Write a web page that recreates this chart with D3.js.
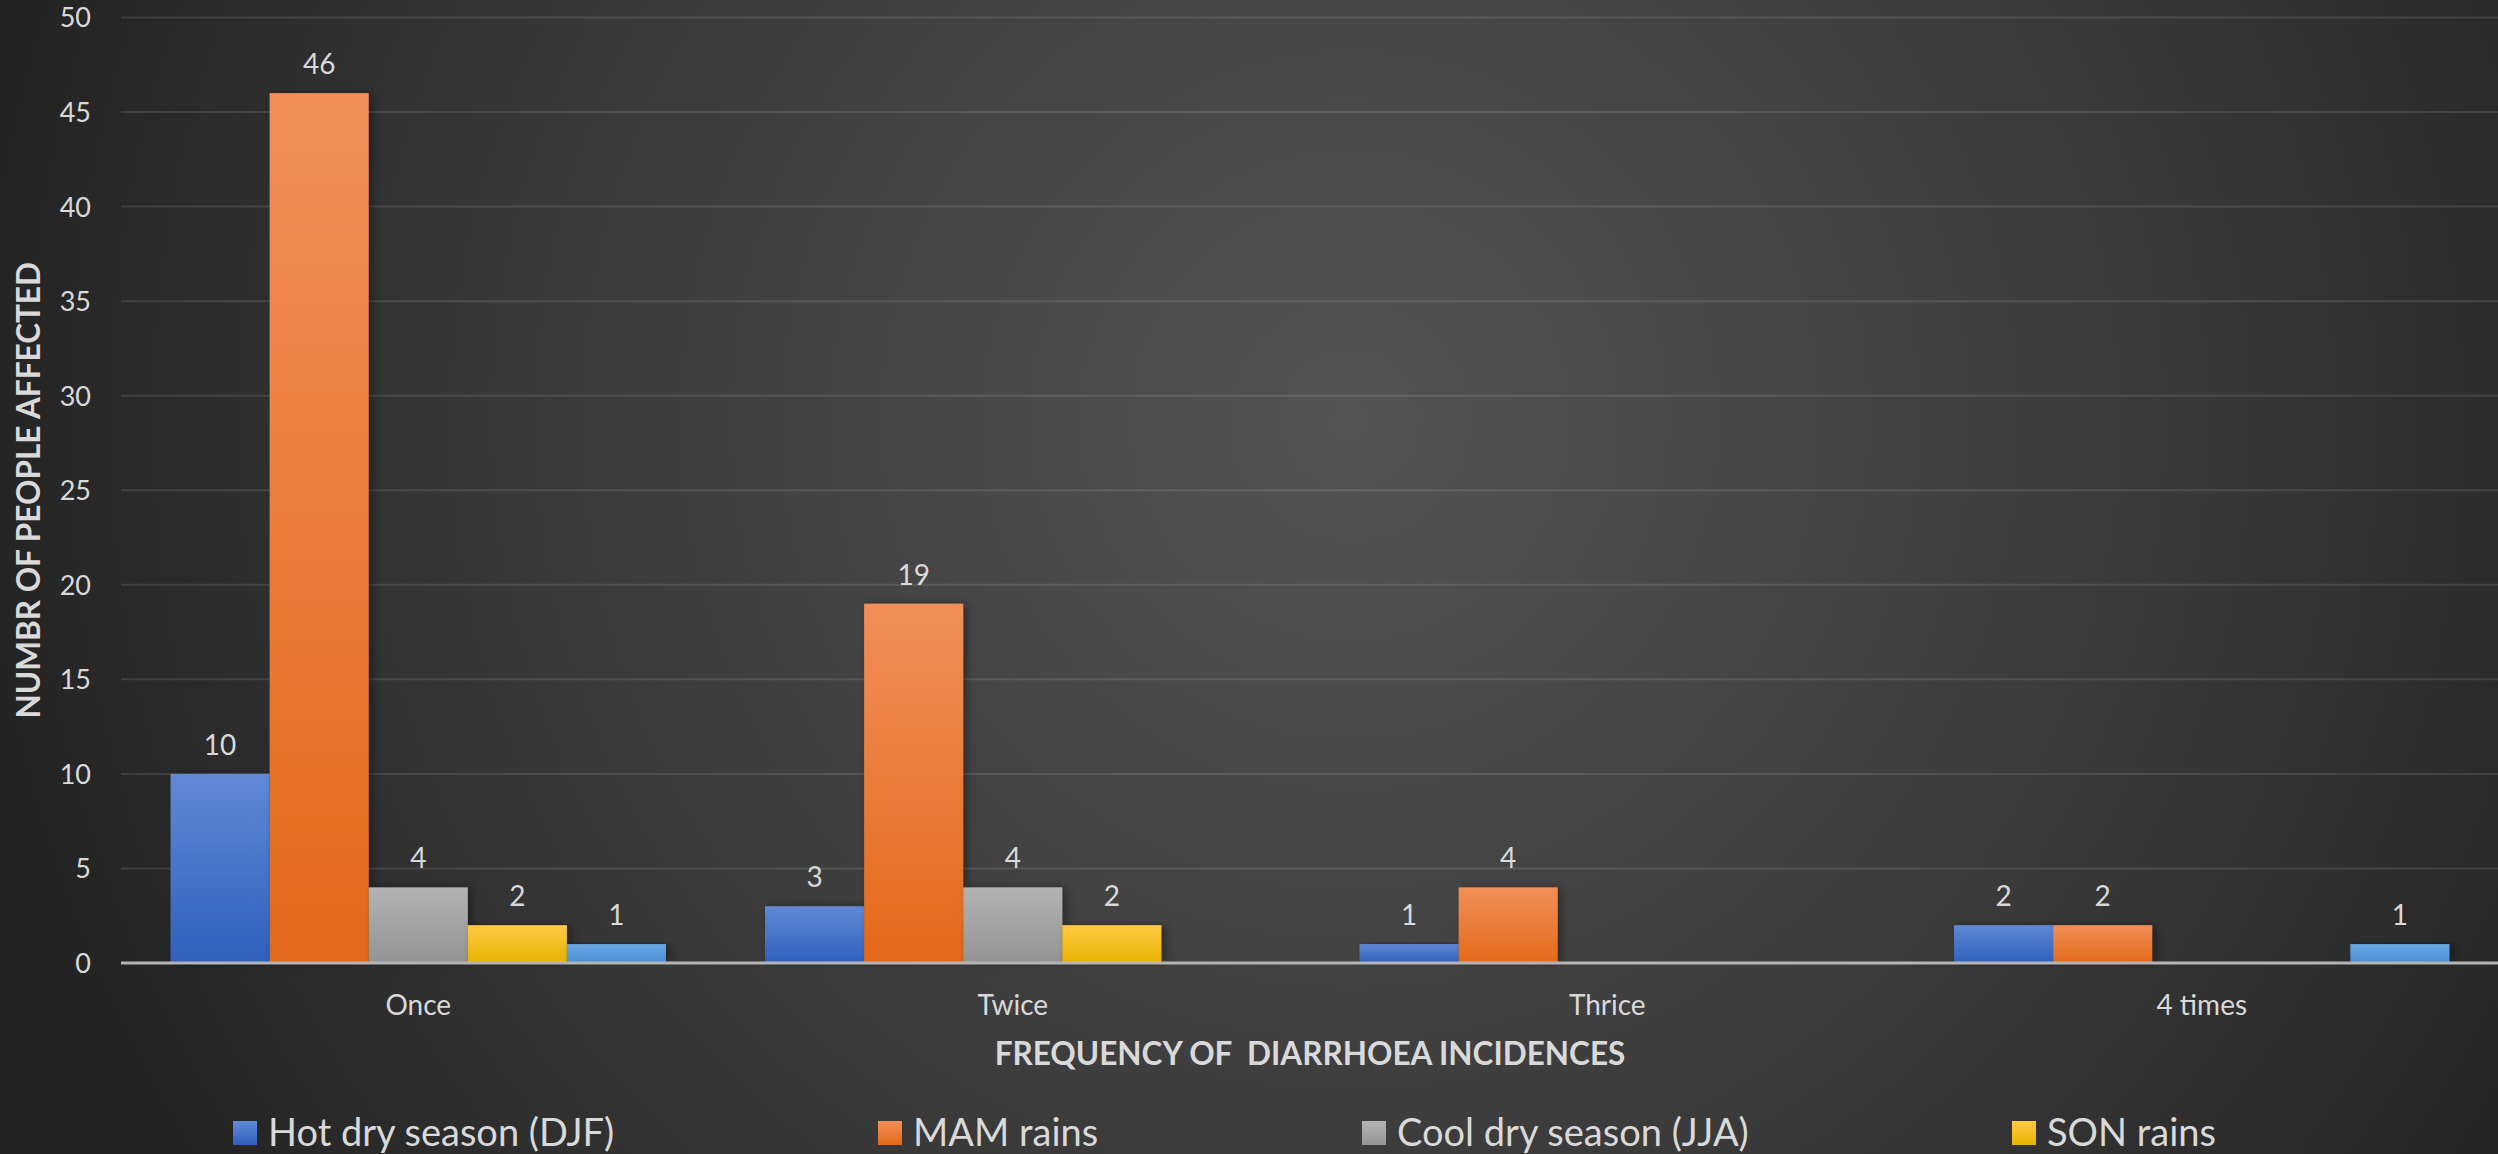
<!DOCTYPE html>
<html>
<head>
<meta charset="utf-8">
<script src="https://cdn.jsdelivr.net/npm/d3@7"></script>
<style>
  html, body { margin: 0; padding: 0; background: #2a2a2a; overflow: hidden; }
  svg { display: block; }
  text { font-family: Lato, "Open Sans", sans-serif; fill: #d9d9d9; }
</style>
</head>
<body>
<svg id="chart" width="2498" height="1154"></svg>
<script>
// Frequency of diarrhoea incidences by season
const categories = ["Once", "Twice", "Thrice", "4 times"];
const seriesNames = ["Hot dry season (DJF)", "MAM rains", "Cool dry season (JJA)", "SON rains", "Other"];
const hotDry  = [10, 3, 1, 2];
const mamRains = [46, 19, 4, 2];
const coolDry = [4, 4, null, null];
const sonRains = [2, 2, null, null];
const other   = [1, null, null, 1];
const yTicks = [0, 5, 10, 15, 20, 25, 30, 35, 40, 45, 50];
const xTitle = "FREQUENCY OF  DIARRHOEA INCIDENCES";
const yTitle = "NUMBR OF PEOPLE AFFECTED";

const seriesValues = [hotDry, mamRains, coolDry, sonRains, other];
const legendShown = 4;

// colour ramps (top, bottom) per series
const palette = [
  ["#6189d6", "#2f60bd"],
  ["#f28f59", "#e2691a"],
  ["#b3b3b3", "#949494"],
  ["#ffca45", "#e8b400"],
  ["#6aa8e2", "#4a8fd2"]
];

const W = 2498, H = 1154;
const plot = { left: 121, right: 2499, top: 17.5, bottom: 963 };

const svg = d3.select("#chart");
const defs = svg.append("defs");

// background
const bg = defs.append("radialGradient").attr("id", "bg")
  .attr("gradientUnits", "userSpaceOnUse")
  .attr("cx", 1350).attr("cy", 420).attr("r", 1450);
bg.append("stop").attr("offset", "0%").attr("stop-color", "#545454");
bg.append("stop").attr("offset", "55%").attr("stop-color", "#3a3a3a");
bg.append("stop").attr("offset", "100%").attr("stop-color", "#212121");
svg.append("rect").attr("width", W).attr("height", H).attr("fill", "url(#bg)");

palette.forEach((c, i) => {
  const g = defs.append("linearGradient").attr("id", "bar" + i)
    .attr("x1", 0).attr("y1", 0).attr("x2", 0).attr("y2", 1);
  g.append("stop").attr("offset", "0%").attr("stop-color", c[0]);
  g.append("stop").attr("offset", "100%").attr("stop-color", c[1]);
});

const shadow = defs.append("filter").attr("id", "shadow")
  .attr("x", "-10%").attr("y", "-10%").attr("width", "130%").attr("height", "120%");
shadow.append("feDropShadow").attr("dx", 4).attr("dy", 0).attr("stdDeviation", 4)
  .attr("flood-color", "#000").attr("flood-opacity", 0.35);

// scales
const x0 = d3.scaleBand().domain(categories).range([plot.left, plot.right])
  .paddingInner(1 / 6).paddingOuter(1 / 12);
const x1 = d3.scaleBand().domain(d3.range(seriesNames.length)).range([0, x0.bandwidth()]);
const y = d3.scaleLinear().domain([0, 50]).range([plot.bottom, plot.top]);

// gridlines
svg.append("g").selectAll("line").data(yTicks.filter(t => t > 0)).join("line")
  .attr("x1", plot.left).attr("x2", plot.right)
  .attr("y1", d => y(d)).attr("y2", d => y(d))
  .attr("stroke", "rgba(255,255,255,0.11)").attr("stroke-width", 2);

// y axis labels
const yAxis = d3.axisLeft(y).tickValues(yTicks).tickSize(0).tickPadding(0);
const ya = svg.append("g").attr("transform", `translate(91,0)`).call(yAxis);
ya.select(".domain").remove();
ya.selectAll("text").attr("font-size", 27).attr("fill", "#d9d9d9")
  .style("font-family", "Lato, sans-serif").attr("dy", "0.35em");

// bars
const flat = [];
categories.forEach((c, ci) => {
  seriesValues.forEach((vals, si) => {
    if (vals[ci] != null) flat.push({ cat: c, si, v: vals[ci] });
  });
});

const bars = svg.append("g");
bars.selectAll("rect").data(flat).join("rect")
  .attr("x", d => x0(d.cat) + x1(d.si))
  .attr("width", x1.bandwidth())
  .attr("y", d => y(d.v))
  .attr("height", d => y(0) - y(d.v))
  .attr("fill", d => `url(#bar${d.si})`)
  .attr("filter", "url(#shadow)");

// value labels
svg.append("g").selectAll("text").data(flat).join("text")
  .attr("x", d => x0(d.cat) + x1(d.si) + x1.bandwidth() / 2)
  .attr("y", d => y(d.v) - 19)
  .attr("text-anchor", "middle")
  .attr("font-size", 28)
  .text(d => d.v);

// category axis
const xAxis = d3.axisBottom(x0).tickSize(0).tickPadding(0);
const xa = svg.append("g").attr("transform", `translate(0,${plot.bottom})`).call(xAxis);
xa.select(".domain").remove();
xa.selectAll("text").attr("font-size", 28).attr("fill", "#d9d9d9")
  .style("font-family", "Lato, sans-serif").attr("y", 52).attr("dy", 0);

svg.append("line")
  .attr("x1", plot.left).attr("x2", plot.right)
  .attr("y1", y(0)).attr("y2", y(0))
  .attr("stroke", "#b5b5b5").attr("stroke-width", 3);

// axis titles
svg.append("text")
  .attr("x", (plot.left + plot.right) / 2).attr("y", 1065)
  .attr("text-anchor", "middle").attr("font-size", 31.5).attr("font-weight", 700)
  .style("white-space", "pre").attr("xml:space", "preserve")
  .text(xTitle);

svg.append("text")
  .attr("transform", `translate(40,${(plot.top + plot.bottom) / 2}) rotate(-90)`)
  .attr("text-anchor", "middle").attr("font-size", 31.5).attr("font-weight", 700)
  .text(yTitle);

// legend
const legendX = [233, 878, 1362, 2012];
const lg = svg.append("g");
seriesNames.slice(0, legendShown).forEach((name, i) => {
  const g = lg.append("g").attr("transform", `translate(${legendX[i]},1121)`);
  g.append("rect").attr("width", 24).attr("height", 24).attr("fill", `url(#bar${i})`);
  g.append("text").attr("x", 35).attr("y", 25).attr("font-size", 38).text(name);
});
</script>
</body>
</html>
